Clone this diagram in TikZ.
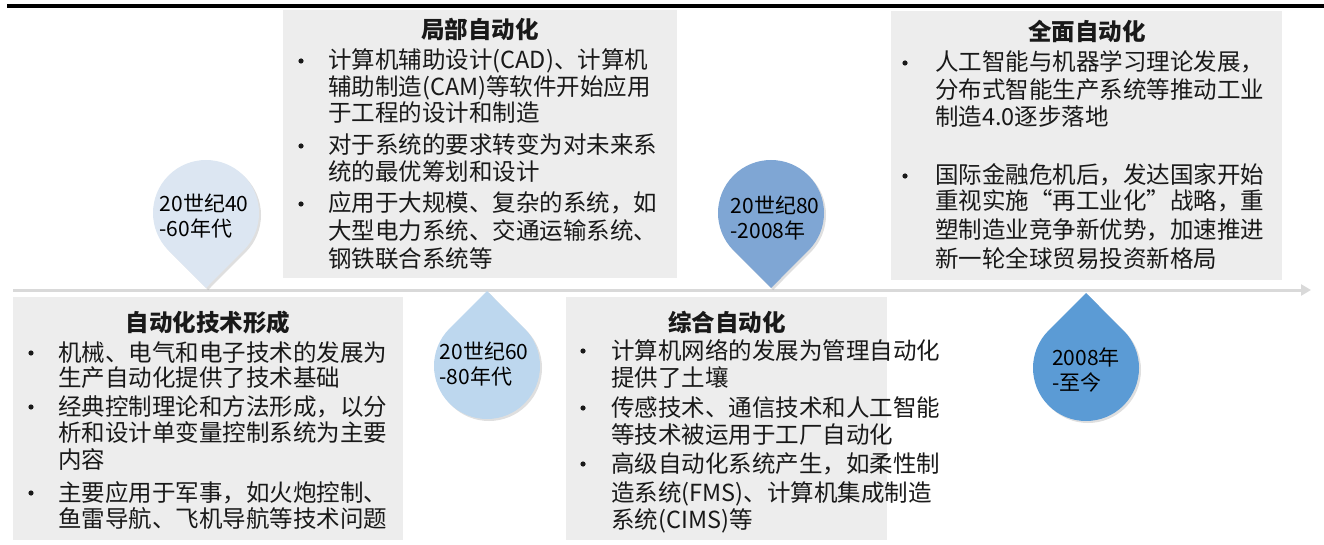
\documentclass[tikz,border=0pt]{standalone}
\usepackage{fontspec}
\setmainfont{Noto Sans CJK SC}
\usetikzlibrary{arrows.meta,shadows}
\definecolor{boxgray}{RGB}{237,237,237}
\definecolor{lineg}{RGB}{217,217,217}
\definecolor{dropA}{RGB}{220,230,242}
\definecolor{dropB}{RGB}{189,215,238}
\definecolor{dropC}{RGB}{127,166,212}
\definecolor{dropD}{RGB}{91,155,213}
\definecolor{txt}{RGB}{25,25,25}
\begin{document}
\begin{tikzpicture}[x=1pt,y=-1pt,
  box/.style={fill=boxgray,draw=none,inner sep=0pt,anchor=north west},
  body/.style={font=\fontsize{23.5}{26}\selectfont,text=txt,anchor=base west,inner sep=0pt},
  ttl/.style={font=\fontsize{23.5}{26}\selectfont\bfseries,text=txt,anchor=base,inner sep=0pt},
  dot/.style={fill=txt},
  droplabel/.style={font=\fontsize{21}{25}\selectfont,align=left,inner sep=0pt,text=black},
  dropshape/.style={draw=none,drop shadow={shadow xshift=2pt,shadow yshift=-2pt,opacity=0.25}}
]
\useasboundingbox (0,0) rectangle (1324,545);

% top rule
\coordinate (r0) at (7,6);
\coordinate (r1) at (1324,6);
\draw[line width=3.5pt,black] (r0) -- (r1);

% boxes
\node[box,minimum width=390pt,minimum height=243pt] (B1) at (13,297) {};
\node[box,minimum width=394pt,minimum height=268pt] (B2) at (283,10) {};
\node[box,minimum width=321pt,minimum height=243pt] (B3) at (566,297) {};
\node[box,minimum width=391pt,minimum height=269pt] (B4) at (891,11) {};

% timeline
\coordinate (t0) at (13,290);
\coordinate (t1) at (1311,290);
\draw[lineg,line width=3pt,-{Triangle[length=10pt,width=11pt]}] (t0) -- (t1);

% drops
\coordinate (c1) at (206,213);
\coordinate (c2) at (487,366);
\coordinate (c3) at (771,213);
\coordinate (c4) at (1086,368);
\fill[dropA,dropshape] ([shift={(c1)}]0pt,-75pt) -- ([shift={(c1)}]-45:53pt) arc[start angle=-45,end angle=225,radius=53pt] -- cycle;
\fill[dropB,dropshape] ([shift={(c2)}]0pt,75pt) -- ([shift={(c2)}]135:53pt) arc[start angle=135,end angle=405,radius=53pt] -- cycle;
\fill[dropC,dropshape] ([shift={(c3)}]0pt,-75pt) -- ([shift={(c3)}]-45:53pt) arc[start angle=-45,end angle=225,radius=53pt] -- cycle;
\fill[dropD,dropshape] ([shift={(c4)}]0pt,75pt) -- ([shift={(c4)}]135:53pt) arc[start angle=135,end angle=405,radius=53pt] -- cycle;

\node[droplabel] (L1) at (204,216) {20世纪40\\-60年代};
\node[droplabel] (L2) at (484,364) {20世纪60\\-80年代};
\node[droplabel] (L3) at (775,218) {20世纪80\\-2008年};
\node[droplabel] (L4) at (1086,370) {2008年\\-至今};

% titles
\node[ttl] (T1) at (208,331) {自动化技术形成};
\node[ttl] (T2) at (480,39) {局部自动化};
\node[ttl] (T3) at (727,331) {综合自动化};
\node[ttl] (T4) at (1087,41) {全面自动化};

% box 1 text
\foreach \Ly/\Lt [count=\i] in {352/机械、电气和电子技术的发展为,377/生产自动化提供了技术基础,406/经典控制理论和方法形成，以分,432/析和设计单变量控制系统为主要,459/内容,492/主要应用于军事，如火炮控制、,518/鱼雷导航、飞机导航等技术问题}
  \node[body] (a\i) at (58,\Ly+9) {\Lt};
\foreach \Ly in {352,406,492} \fill[dot] (31,\Ly+1) circle (2.6pt);

% box 2 text
\foreach \Ly/\Lt [count=\i] in {60/计算机辅助设计(CAD)、计算机,87/辅助制造(CAM)等软件开始应用,113/于工程的设计和制造,145/对于系统的要求转变为对未来系,172/统的最优筹划和设计,203/应用于大规模、复杂的系统，如,231/大型电力系统、交通运输系统、,258/钢铁联合系统等}
  \node[body] (b\i) at (328,\Ly+9) {\Lt};
\foreach \Ly in {60,145,203} \fill[dot] (301,\Ly+1) circle (2.6pt);

% box 3 text
\foreach \Ly/\Lt [count=\i] in {350/计算机网络的发展为管理自动化,377/提供了土壤,407/传感技术、通信技术和人工智能,434/等技术被运用于工厂自动化,463/高级自动化系统产生，如柔性制,492/造系统(FMS)、计算机集成制造,519/系统(CIMS)等}
  \node[body] (c\i) at (611,\Ly+9) {\Lt};
\foreach \Ly in {350,407,463} \fill[dot] (583,\Ly+1) circle (2.6pt);

% box 4 text
\foreach \Ly/\Lt [count=\i] in {62/人工智能与机器学习理论发展，,90/分布式智能生产系统等推动工业,117/制造4.0逐步落地,175/国际金融危机后，发达国家开始,201/重视实施“再工业化”战略，重,230/塑制造业竞争新优势，加速推进,258/新一轮全球贸易投资新格局}
  \node[body] (d\i) at (935,\Ly+9) {\Lt};
\foreach \Ly in {62,175} \fill[dot] (905,\Ly+1) circle (2.6pt);
\end{tikzpicture}
\end{document}
